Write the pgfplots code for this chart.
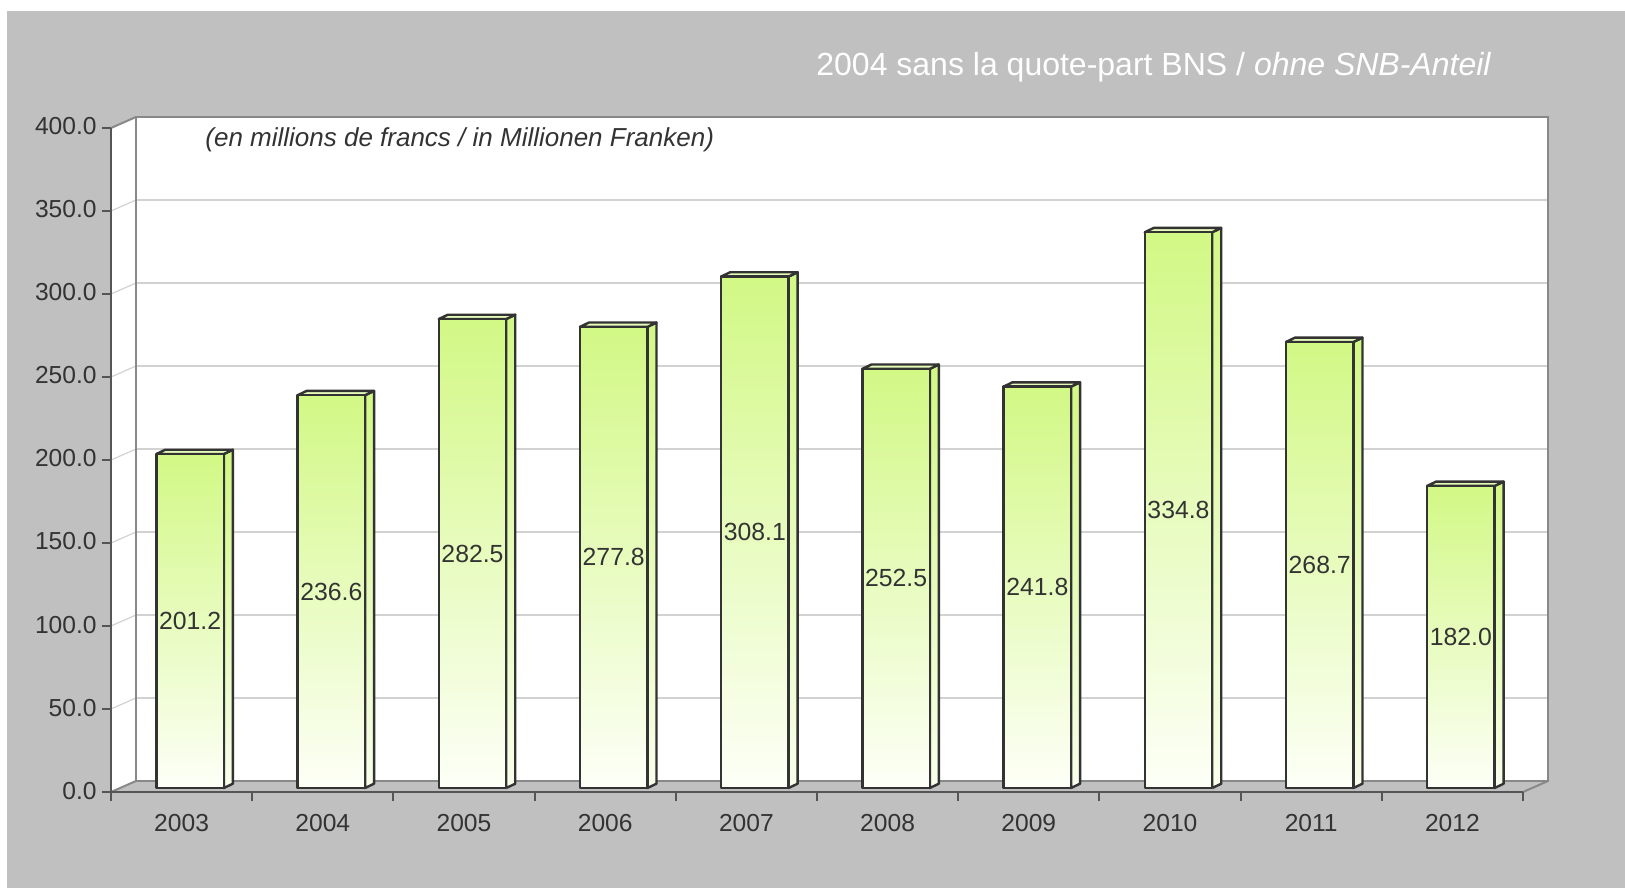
\documentclass[border=0pt]{standalone}
\usepackage{pgfplots}
\usepackage{pgfplotstable}
\pgfplotsset{compat=1.18}
\usepackage{fontspec}
\setmainfont{Liberation Sans}
\definecolor{bg}{HTML}{C0C0C0}
\definecolor{wallline}{HTML}{888888}
\definecolor{gridc}{HTML}{D2D2D2}
\definecolor{axc}{HTML}{555555}
\definecolor{txt}{HTML}{333333}
\definecolor{bartop}{HTML}{D2F885}
\definecolor{barbot}{HTML}{FDFFF7}
\definecolor{barline}{HTML}{333333}
\definecolor{topface}{HTML}{E6FBBA}

\pgfplotstableread{
x y
0 201.2
1 236.6
2 282.5
3 277.8
4 308.1
5 252.5
6 241.8
7 334.8
8 268.7
9 182.0
}\datatable

\begin{document}
\begin{tikzpicture}
\path[use as bounding box, fill=white] (-55.5pt,-48pt) rectangle (757pt,396pt);
\begin{scope}[x=0.5pt,y=0.5pt]
\fill[bg] (-104,-96) rectangle (1514,781);
\fill[white] (0,0) -- (25,11) -- (25,675) -- (0,664) -- cycle;
\foreach \v in {50,100,...,350} \draw[gridc, line width=0.6pt] (0,{1.66*\v}) -- (25,{11+1.66*\v});
\draw[wallline, line width=1pt] (0,664) -- (25,675);
\draw[wallline, line width=1pt] (0,0) -- (25,11);
\draw[wallline, line width=1pt] (1412,0) -- (1437,11);
\end{scope}

% back wall
\begin{axis}[
  at={(12.5pt,5.5pt)}, anchor=south west,
  x=70.6pt, y=0.83pt, xmin=-0.5, xmax=9.5, ymin=0, ymax=400,
  axis background/.style={fill=white},
  axis line style={draw=wallline, line width=1pt},
  ytick={50,100,...,350}, xtick=\empty, yticklabels={}, major tick length=0pt,
  ymajorgrids, grid style={gridc, line width=0.6pt},
]
\end{axis}

% front axis with bars
\begin{axis}[
  at={(0pt,0pt)}, anchor=south west,
  x=70.6pt, y=0.83pt, xmin=-0.5, xmax=9.5, ymin=0, ymax=400,
  clip=false,
  axis x line*=bottom, axis y line*=left,
  axis line style={draw=axc, line width=1pt, -},
  xtick={-0.5,0.5,...,9.5}, xticklabels={},
  extra x ticks={0,1,2,3,4,5,6,7,8,9},
  extra x tick labels={2003,2004,2005,2006,2007,2008,2009,2010,2011,2012},
  extra x tick style={major tick length=0pt},
  ytick={0,50,...,400},
  yticklabel={\pgfmathprintnumber[fixed,fixed zerofill,precision=1,assume math mode=true]{\tick}},
  tick align=outside,
  major tick length=4.5pt,
  tick style={draw=axc, line width=1pt},
  xticklabel style={font=\fontsize{12.3}{14}\selectfont, text=txt, anchor=base, yshift=-19.75pt},
  yticklabel style={font=\fontsize{12.3}{14}\selectfont, text=txt, anchor=base east, inner sep=0pt, xshift=-2.5pt, yshift=-3.5pt},
]
\addplot[scatter, only marks, mark=*, mark size=0pt,
  visualization depends on={rawy \as \rawy},
  scatter/@pre marker code/.code={
    % side face
    \path[top color=bartop, bottom color=barbot!90!bartop, draw=barline, line width=1.2pt, line join=round]
      (21.125pt,2pt) -- (25.625pt,4.15pt) -- (25.625pt,{4.15pt-\rawy*0.83pt}) -- (21.125pt,{2pt-\rawy*0.83pt}) -- cycle;
    % top face
    \path[fill=topface, draw=barline, line width=1.2pt, line join=round]
      (-12.625pt,2pt) -- (21.125pt,2pt) -- (25.625pt,4.15pt) -- (-8.125pt,4.15pt) -- cycle;
    % front face
    \path[top color=bartop, bottom color=barbot, draw=barline, line width=1.2pt, line join=round]
      (-12.625pt,{2pt-\rawy*0.83pt}) rectangle (21.125pt,2pt);
    \node[anchor=center, inner sep=0pt, text=txt, font=\fontsize{12.4}{14}\selectfont]
      at (4.25pt,{2pt-\rawy*0.415pt}) {\pgfmathprintnumber[fixed,fixed zerofill,precision=1,assume math mode=true]{\rawy}};
  },
  scatter/@post marker code/.code={},
] table[x=x,y=y] {\datatable};
\end{axis}

\node[anchor=base west, inner sep=0pt, text=white, font=\fontsize{16}{18}\selectfont]
  at (352.5pt,358pt) {2004 sans la quote-part BNS / \textit{ohne SNB-Anteil}};
\node[anchor=base west, inner sep=0pt, text=txt, font=\fontsize{13}{15}\selectfont\itshape]
  at (47pt,322.5pt) {(en millions de francs / in Millionen Franken)};
\end{tikzpicture}
\end{document}
